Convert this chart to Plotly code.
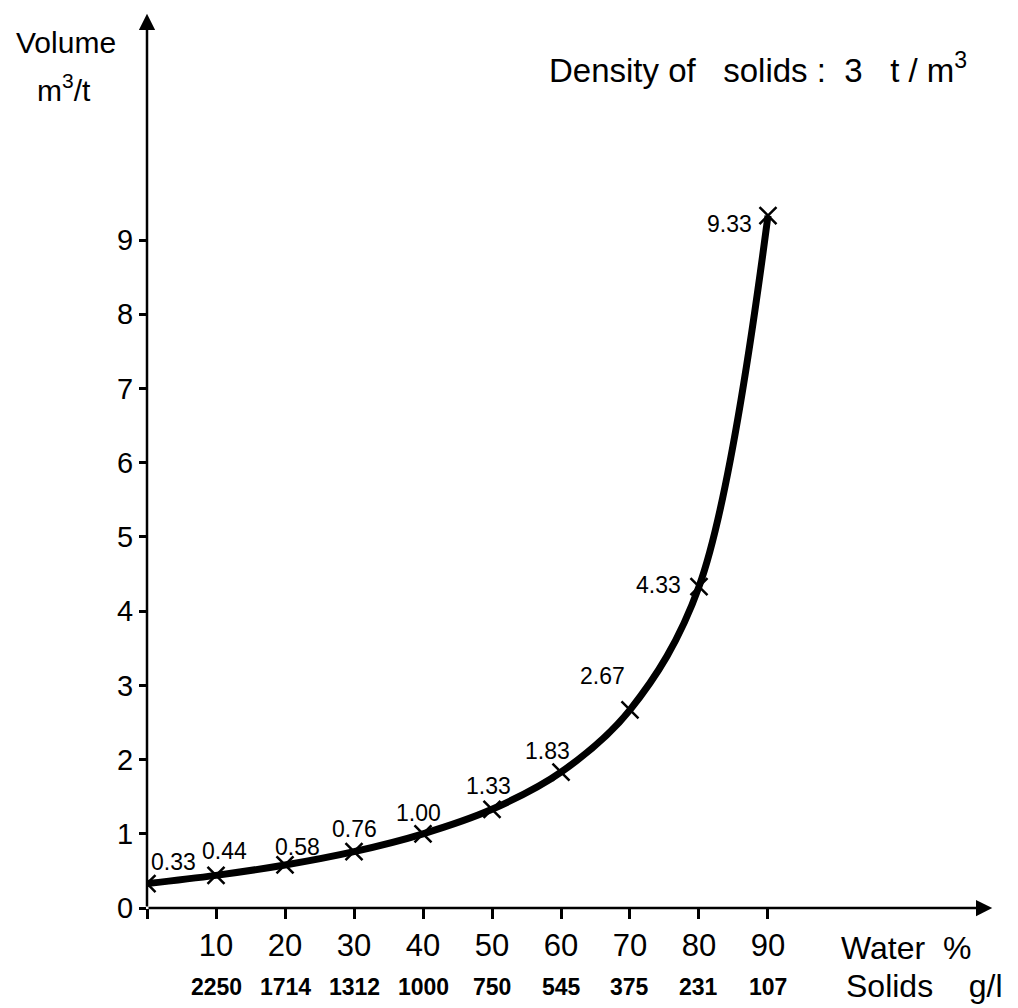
import plotly.graph_objects as go

# ---- data ----
water_pct = [0, 10, 20, 30, 40, 50, 60, 70, 80, 90]
volume_m3_per_t = [0.33, 0.44, 0.58, 0.76, 1.00, 1.33, 1.83, 2.67, 4.33, 9.33]
volume_labels = ["0.33", "0.44", "0.58", "0.76", "1.00", "1.33", "1.83", "2.67", "4.33", "9.33"]
x_tick_vals = [0, 10, 20, 30, 40, 50, 60, 70, 80, 90]
x_tick_text = ["", "10", "20", "30", "40", "50", "60", "70", "80", "90"]
solids_tick_vals = [10, 20, 30, 40, 50, 60, 70, 80, 90]
solids_g_per_l = ["2250", "1714", "1312", "1000", "750", "545", "375", "231", "107"]
y_tick_vals = [0, 1, 2, 3, 4, 5, 6, 7, 8, 9]

# ---- style (label offsets in pixels) ----
label_dx = [26, 8, 12, 0, -5, -4, -14, -27, -40, -38]
label_dy = [22, 24, 18, 23, 21, 23, 21, 34, 2, -8]

FONT = "Liberation Sans"

fig = go.Figure()
fig.add_trace(go.Scatter(
    x=water_pct, y=volume_m3_per_t, mode="lines+markers",
    line=dict(color="black", width=7, shape="spline", smoothing=1.0),
    marker=dict(symbol="x-thin", size=17, line=dict(color="black", width=2.5), color="black"),
    hoverinfo="skip", showlegend=False,
))

annotations = []
for x, y, t, dx, dy in zip(water_pct, volume_m3_per_t, volume_labels, label_dx, label_dy):
    annotations.append(dict(x=x, y=y, xref="x", yref="y", text=t, showarrow=False,
                            xshift=dx, yshift=dy, font=dict(family=FONT, size=23, color="black")))

for x, t in zip(solids_tick_vals, solids_g_per_l):
    annotations.append(dict(x=x, y=0, xref="x", yref="y", text="<b>" + t + "</b>", showarrow=False,
                            yshift=-79, font=dict(family=FONT, size=23, color="black")))

# axes with arrows
annotations.append(dict(x=0, y=12.05, ax=0, ay=0, xref="x", yref="y", axref="x", ayref="y",
                        text="", showarrow=True, arrowhead=2, arrowsize=1.3, arrowwidth=2.5,
                        arrowcolor="black"))
annotations.append(dict(x=122.5, y=0, ax=0, ay=0, xref="x", yref="y", axref="x", ayref="y",
                        text="", showarrow=True, arrowhead=2, arrowsize=1.3, arrowwidth=2.5,
                        arrowcolor="black"))

# texts (positions in target-page pixels)
annotations += [
    dict(x=66, y=42, xref="paper", yref="paper", text="Volume", showarrow=False, fs=30),
    dict(x=64, y=88, xref="paper", yref="paper", text="m<sup>3</sup>/t", showarrow=False, fs=30),
    dict(x=758, y=68, xref="paper", yref="paper",
         text="Density of   solids :  3   t / m<sup>3</sup>", showarrow=False, fs=33),
    dict(x=906, y=948, xref="paper", yref="paper", text="Water  %", showarrow=False, fs=32),
    dict(x=924, y=986, xref="paper", yref="paper", text="Solids    g/l", showarrow=False, fs=32),
]

# page offset: the browser body adds 8px margin
OFF = 8
W, H = 1018 - OFF, 1008 - OFF
ML, MT = 147 - OFF, 10 - OFF
pw, ph = 848, 898
MR, MB = W - ML - pw, H - MT - ph
for a in annotations:
    if a.get("xref") == "paper":
        fs = a.pop("fs")
        a["x"] = (a["x"] - OFF - ML) / pw
        a["y"] = 1 - (a["y"] - OFF - MT) / ph
        a["font"] = dict(family=FONT, size=fs, color="black")
        a["xanchor"] = "center"
        a["yanchor"] = "middle"

fig.update_layout(
    width=W, height=H,
    margin=dict(l=ML, r=MR, t=MT, b=MB),
    paper_bgcolor="white", plot_bgcolor="white",
    annotations=annotations,
    xaxis=dict(range=[0, 122.9], showgrid=False, zeroline=False, showline=False,
               tickvals=x_tick_vals, ticktext=x_tick_text, ticks="outside", ticklen=10,
               tickwidth=2.5, tickcolor="black",
               tickfont=dict(family=FONT, size=31, color="black")),
    yaxis=dict(range=[0, 12.1], showgrid=False, zeroline=False, showline=False,
               tickvals=y_tick_vals, ticks="outside", ticklen=7, tickwidth=2.5,
               tickcolor="black", tickfont=dict(family=FONT, size=29, color="black")),
)

fig.write_html("out.html")
